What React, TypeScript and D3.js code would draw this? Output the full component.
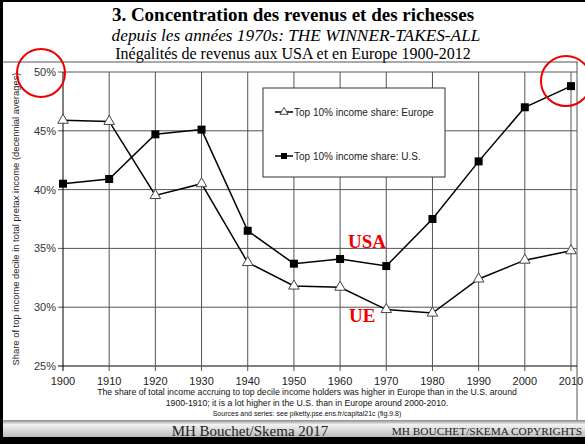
import React from "react";
import * as d3 from "d3";

const W = 585;
const H = 444;

const years = [1900, 1910, 1920, 1930, 1940, 1950, 1960, 1970, 1980, 1990, 2000, 2010];
const europe = [45.9, 45.8, 39.5, 40.5, 33.8, 31.8, 31.7, 29.8, 29.5, 32.4, 34.0, 34.8];
const us = [40.5, 40.9, 44.7, 45.1, 36.5, 33.7, 34.1, 33.5, 37.5, 42.4, 47.0, 48.8];
const yTicks = [25, 30, 35, 40, 45, 50];

const titles = [
  "3. Concentration des revenus et des richesses",
  "depuis les années 1970s: THE WINNER-TAKES-ALL",
  "Inégalités de revenus aux USA et en Europe 1900-2012",
];
const notes = [
  "The share of total income accruing to top decile income holders was higher in Europe than in the U.S. around",
  "1900-1910; it is a lot higher in the U.S. than in Europe around 2000-2010.",
  "Sources and series: see piketty.pse.ens.fr/capital21c (fig.9.8)",
];

const sans = "'Liberation Sans', Arial, sans-serif";
const serif = "'Liberation Serif', 'Times New Roman', serif";

export default function App() {
  const x = d3.scaleLinear().domain([1900, 2010]).range([63, 571]);
  const y = d3.scaleLinear().domain([25, 50]).range([366, 72]);

  const line = d3
    .line<number>()
    .x((_, i) => x(years[i]))
    .y((d) => y(d));

  const tri = d3.symbol().type(d3.symbolTriangle).size(48)();
  const sq = d3.symbol().type(d3.symbolSquare).size(64)();

  return (
    <svg width={W} height={H} style={{ position: "absolute", left: 0, top: 0 }}>
      <defs>
        <linearGradient id="foot" x1="0" y1="0" x2="0" y2="1">
          <stop offset="0" stopColor="#8a8a8a" />
          <stop offset="0.25" stopColor="#f2f2f2" />
          <stop offset="1" stopColor="#b8b8b8" />
        </linearGradient>
      </defs>
      <rect width={W} height={H} fill="#fff" />

      {/* slide titles */}
      <text x={293} y={21} textAnchor="middle" fontFamily={serif} fontWeight="bold" fontSize={19}>
        {titles[0]}
      </text>
      <text x={296} y={41} textAnchor="middle" fontFamily={serif} fontStyle="italic" fontSize={17.3}>
        {titles[1]}
      </text>
      <text x={293} y={59} textAnchor="middle" fontFamily={serif} fontSize={16}>
        {titles[2]}
      </text>

      {/* chart frame */}
      <line x1={0} x2={578} y1={62} y2={62} stroke="#555" strokeWidth={1} />
      <line x1={577} x2={577} y1={62} y2={420} stroke="#555" strokeWidth={1} />

      {/* grid */}
      {yTicks.map((t) => (
        <g key={t}>
          <line x1={58} x2={577} y1={y(t)} y2={y(t)} stroke={t === 25 ? "#000" : "#555"} strokeWidth={1} />
          <text x={56} y={y(t) + 4} textAnchor="end" fontFamily={sans} fontSize={11} fill="#333">
            {t}%
          </text>
        </g>
      ))}
      {years.map((yr) => (
        <g key={yr}>
          <line x1={x(yr)} x2={x(yr)} y1={y(50)} y2={y(25) + 5} stroke={yr === 1900 ? "#000" : "#555"} strokeWidth={1} />
          <text x={x(yr)} y={385} textAnchor="middle" fontFamily={sans} fontSize={11} fill="#222">
            {yr}
          </text>
        </g>
      ))}

      <text
        transform={`translate(19,${y(37.5)}) rotate(-90)`}
        textAnchor="middle"
        fontFamily={sans}
        fontSize={9.4}
        fill="#222"
      >
        Share of top income decile in total pretax income (decennial averages)
      </text>

      {/* series */}
      <path d={line(europe) || ""} fill="none" stroke="#000" strokeWidth={1.5} />
      <path d={line(us) || ""} fill="none" stroke="#000" strokeWidth={1.5} />
      {europe.map((v, i) => (
        <path key={"e" + i} d={tri || ""} transform={`translate(${x(years[i])},${y(v)})`} fill="#fff" stroke="#444" strokeWidth={1} />
      ))}
      {us.map((v, i) => (
        <path key={"u" + i} d={sq || ""} transform={`translate(${x(years[i])},${y(v)})`} fill="#000" />
      ))}

      {/* legend */}
      <rect x={263} y={88} width={182} height={89} fill="#fff" stroke="#333" strokeWidth={1} />
      <line x1={275} x2={293} y1={112} y2={112} stroke="#000" strokeWidth={1.5} />
      <path d={d3.symbol().type(d3.symbolTriangle).size(28)() || ""} transform="translate(284,112)" fill="#fff" stroke="#444" />
      <text x={294} y={115.5} fontFamily={sans} fontSize={10} fill="#222">
        Top 10% income share: Europe
      </text>
      <line x1={275} x2={293} y1={156} y2={156} stroke="#000" strokeWidth={1.5} />
      <path d={d3.symbol().type(d3.symbolSquare).size(36)() || ""} transform="translate(284,156)" fill="#000" />
      <text x={294} y={159.5} fontFamily={sans} fontSize={10} fill="#222">
        Top 10% income share: U.S.
      </text>

      {/* annotations */}
      <text x={348} y={248} fontFamily={serif} fontWeight="bold" fontSize={19} fill="#e00">
        USA
      </text>
      <text x={349} y={322} fontFamily={serif} fontWeight="bold" fontSize={19} fill="#e00">
        UE
      </text>
      <circle cx={41} cy={73} r={24} fill="none" stroke="#e00" strokeWidth={2} />
      <circle cx={566} cy={81} r={25} fill="none" stroke="#e00" strokeWidth={2} />

      {/* notes */}
      <text x={307} y={395} textAnchor="middle" fontFamily={sans} fontSize={8.7} fill="#111">
        {notes[0]}
      </text>
      <text x={307} y={406} textAnchor="middle" fontFamily={sans} fontSize={8.7} fill="#111">
        {notes[1]}
      </text>
      <text x={307} y={416} textAnchor="middle" fontFamily={sans} fontSize={7} fill="#111">
        {notes[2]}
      </text>

      {/* footer */}
      <rect x={0} y={420} width={W} height={18} fill="url(#foot)" />
      <rect x={0} y={437} width={W} height={7} fill="#000" />
      <text x={250} y={436} textAnchor="middle" fontFamily={serif} fontSize={15} fill="#222">
        MH Bouchet/Skema 2017
      </text>
      <text x={582} y={435} textAnchor="end" fontFamily={serif} fontSize={11.3} fill="#222">
        MH BOUCHET/SKEMA COPYRIGHTS
      </text>

      {/* slide border */}
      <rect x={0} y={0} width={3} height={H} fill="#000" />
      <rect x={0} y={0} width={W} height={2} fill="#000" />
    </svg>
  );
}
